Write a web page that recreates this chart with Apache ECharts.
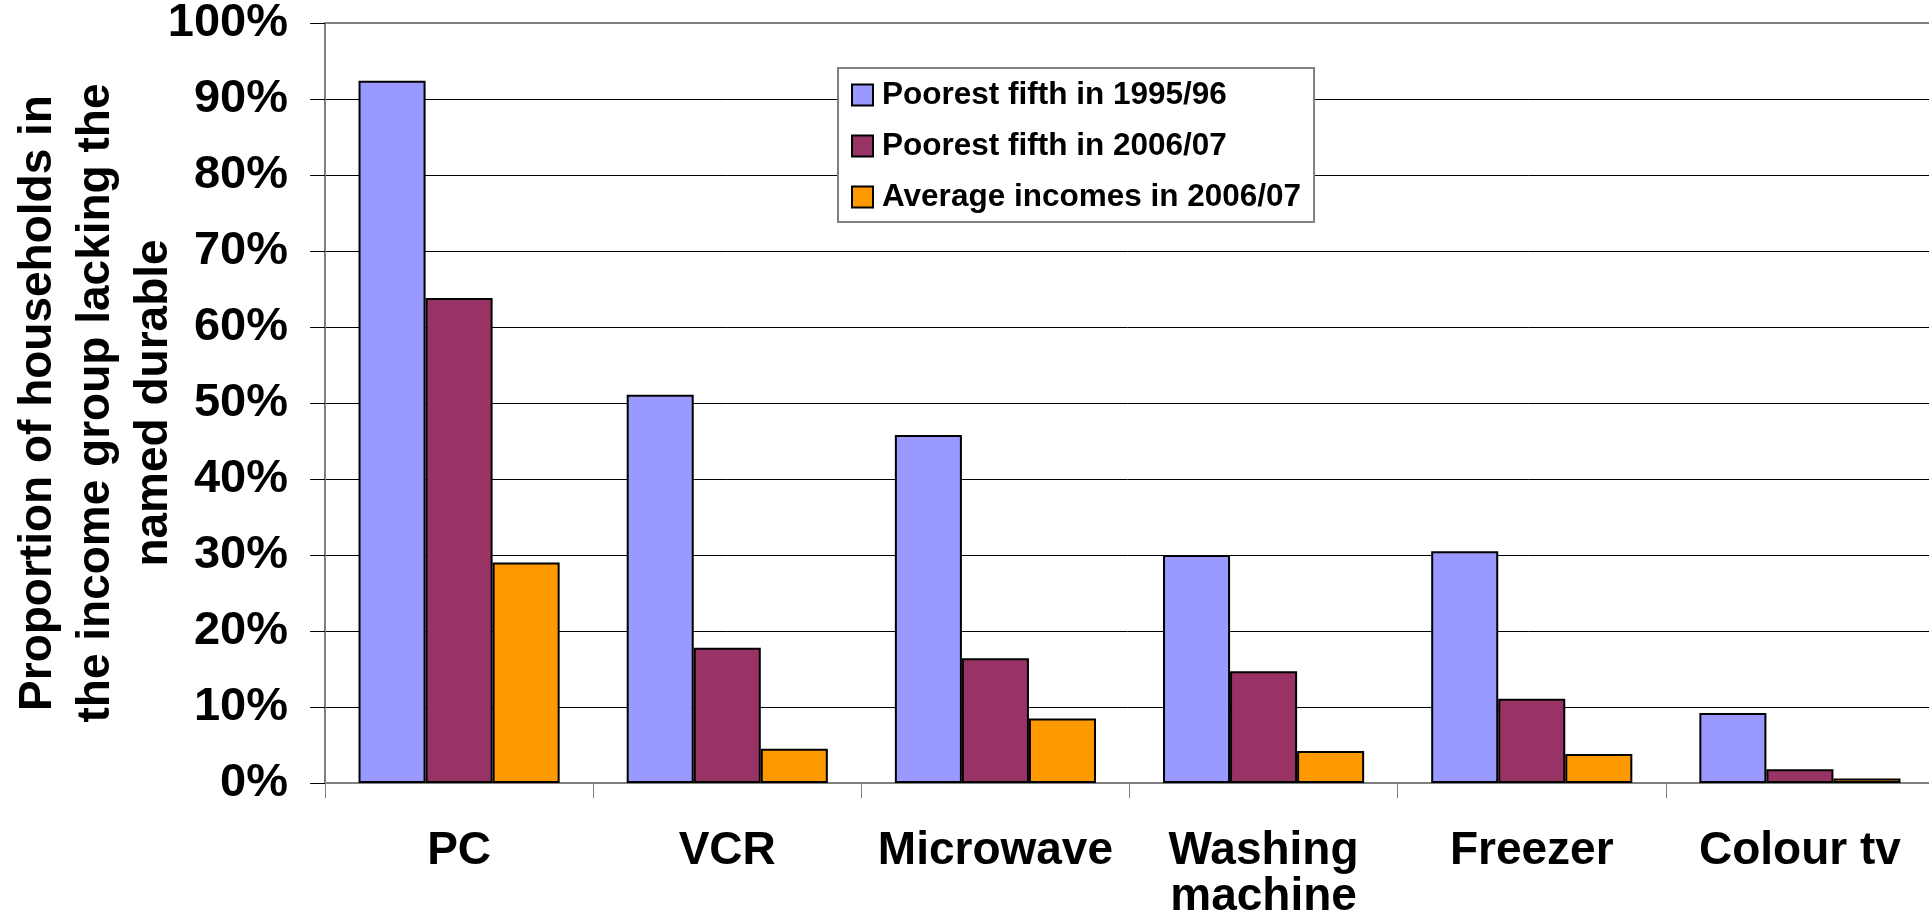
<!DOCTYPE html>
<html>
<head>
<meta charset="utf-8">
<script src="https://cdn.jsdelivr.net/npm/echarts@6/dist/echarts.min.js"></script>
<style>
html,body{margin:0;padding:0;background:#fff;}
#chart{width:1929px;height:924px;}
</style>
</head>
<body>
<div id="chart"></div>
<script>
const categories = ['PC', 'VCR', 'Microwave', 'Washing\nmachine', 'Freezer', 'Colour tv'];
const seriesNames = ['Poorest fifth in 1995/96', 'Poorest fifth in 2006/07', 'Average incomes in 2006/07'];
const poorest1995 = [92.4, 51.1, 45.8, 30.0, 30.5, 9.2];
const poorest2006 = [63.8, 17.8, 16.4, 14.7, 11.1, 1.8];
const average2006 = [29.0, 4.5, 8.5, 4.2, 3.8, 0.6];
const yAxisTitle = 'Proportion of households in\nthe income group lacking the\nnamed durable';
const colors = ['#9999FF', '#993366', '#FF9900'];

const FONT = '"Liberation Sans", Arial, Helvetica, sans-serif';
const chart = echarts.init(document.getElementById('chart'), null, {renderer: 'canvas'});

const dataSets = [poorest1995, poorest2006, average2006];
const series = dataSets.map((d, i) => ({
  name: seriesNames[i],
  type: 'bar',
  data: d,
  barGap: '0%',
  barCategoryGap: '25%',
  itemStyle: {color: colors[i], borderColor: '#000', borderWidth: 2},
  emphasis: {disabled: true}
}));

chart.setOption({
  animation: false,
  backgroundColor: '#fff',
  grid: {
    left: 325, top: 23, bottom: 141, right: -5,
    containLabel: false,
    outerBoundsMode: 'none',
    show: true, borderColor: '#808080', borderWidth: 2, backgroundColor: 'transparent'
  },
  legend: {
    show: true,
    orient: 'vertical',
    left: 838, top: 68,
    padding: [11, 13, 9, 13],
    backgroundColor: '#fff',
    borderColor: '#808080',
    borderWidth: 2,
    borderRadius: 0,
    itemWidth: 21, itemHeight: 21,
    itemGap: 19,
    icon: 'rect',
    selectedMode: false,
    textStyle: {fontFamily: FONT, fontWeight: 'bold', fontSize: 31.5, color: '#000', padding: [0, 0, 0, 4]},
    data: seriesNames
  },
  xAxis: {
    type: 'category',
    data: categories,
    axisLine: {show: true, lineStyle: {color: '#808080', width: 2}},
    axisTick: {show: true, length: 15, lineStyle: {color: '#808080', width: 1}},
    axisLabel: {
      interval: 0, margin: 45,
      fontFamily: FONT, fontWeight: 'bold', fontSize: 46, lineHeight: 46, color: '#000'
    },
    splitLine: {show: false}
  },
  yAxis: {
    type: 'value',
    min: 0, max: 100, interval: 10,
    name: yAxisTitle,
    nameLocation: 'middle',
    nameGap: 142,
    nameMoveOverlap: false,
    nameTextStyle: {fontFamily: FONT, fontWeight: 'bold', fontSize: 46, lineHeight: 58, color: '#000'},
    axisLine: {show: true, lineStyle: {color: '#808080', width: 2}},
    axisTick: {show: true, length: 15, lineStyle: {color: '#000', width: 1}},
    axisLabel: {
      margin: 37, formatter: '{value}%',
      fontFamily: FONT, fontWeight: 'bold', fontSize: 47, color: '#000'
    },
    splitLine: {show: true, showMaxLine: false, lineStyle: {color: '#000', width: 1}}
  },
  series: series
});
</script>
</body>
</html>
